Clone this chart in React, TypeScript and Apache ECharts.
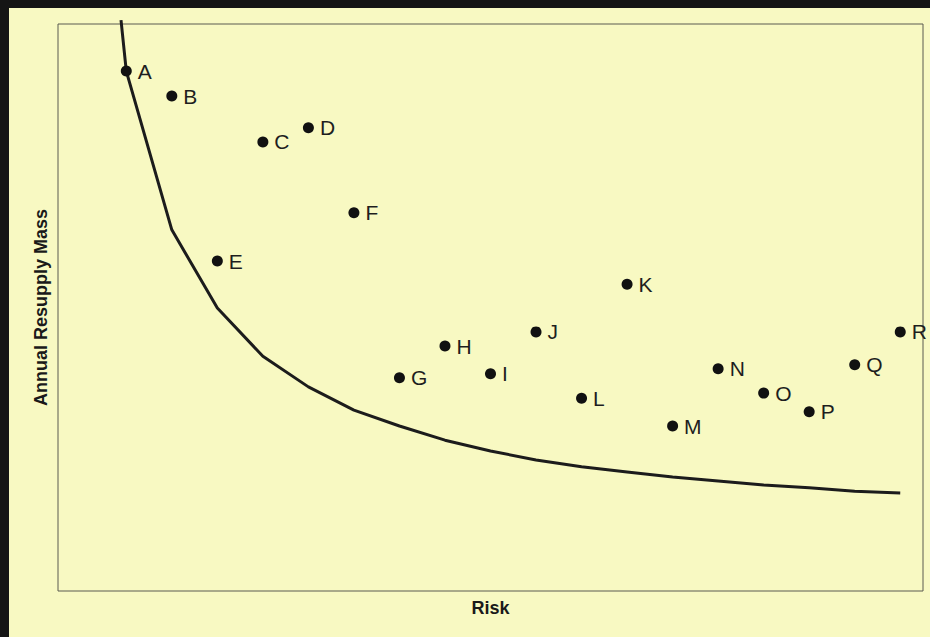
import React, { useEffect, useRef } from "react";
import * as echarts from "echarts";

const pointNames = ["A", "B", "C", "D", "E", "F", "G", "H", "I", "J", "K", "L", "M", "N", "O", "P", "Q", "R"];
const pointRisk = [1, 2, 4, 5, 3, 6, 7, 8, 9, 10, 12, 11, 13, 14, 15, 16, 17, 18];
const pointMass = [91.7, 87.3, 79.2, 81.7, 58.2, 66.7, 37.6, 43.2, 38.3, 45.7, 54.1, 34.0, 29.1, 39.2, 34.9, 31.6, 39.9, 45.7];

const curveRisk = [0.884, 1, 2, 3, 4, 5, 6, 7, 8, 9, 10, 11, 12, 13, 14, 15, 16, 17, 18];
const curveMass = [100.7, 91.7, 63.7, 49.9, 41.4, 36.0, 31.9, 29.1, 26.6, 24.7, 23.1, 21.9, 21.0, 20.1, 19.4, 18.7, 18.2, 17.6, 17.3];

const FONT = "'Liberation Sans', Arial, Helvetica, sans-serif";

export default function App() {
  const ref = useRef<HTMLDivElement>(null);

  useEffect(() => {
    document.body.style.margin = "0";
    if (!ref.current) return;
    const chart = echarts.init(ref.current, null, { renderer: "svg" });
    const scatterData = pointNames.map((n, i) => ({ name: n, value: [pointRisk[i], pointMass[i]] }));
    const curveData = curveRisk.map((x, i) => [x, curveMass[i]]);
    chart.setOption({
      animation: false,
      backgroundColor: "#f8f9c2",
      grid: {
        left: 58,
        top: 24,
        right: 7,
        bottom: 46,
        show: true,
        borderColor: "#5a5a50",
        borderWidth: 1,
        backgroundColor: "transparent",
      },
      xAxis: {
        type: "value",
        min: -0.5,
        max: 18.5,
        name: "Risk",
        nameLocation: "middle",
        nameGap: 8,
        nameTextStyle: { fontFamily: FONT, fontWeight: "bold", fontSize: 18, color: "#1a1a1a", verticalAlign: "top" },
        axisLine: { show: false },
        axisTick: { show: false },
        axisLabel: { show: false },
        splitLine: { show: false },
      },
      yAxis: {
        type: "value",
        min: 0,
        max: 100,
        name: "Annual Resupply Mass",
        nameLocation: "middle",
        nameGap: 8,
        nameTextStyle: { fontFamily: FONT, fontWeight: "bold", fontSize: 18, color: "#1a1a1a" },
        axisLine: { show: false },
        axisTick: { show: false },
        axisLabel: { show: false },
        splitLine: { show: false },
      },
      graphic: [
        { type: "rect", left: 0, top: 0, shape: { width: 930, height: 8 }, style: { fill: "#151515" } },
        { type: "rect", left: 0, top: 0, shape: { width: 9, height: 637 }, style: { fill: "#151515" } },
      ],
      series: [
        {
          type: "line",
          data: curveData,
          symbol: "none",
          clip: false,
          smooth: false,
          lineStyle: { color: "#1c1c1c", width: 3 },
          z: 2,
        },
        {
          type: "scatter",
          data: scatterData,
          symbol: "circle",
          symbolSize: 11,
          itemStyle: { color: "#111111", opacity: 1 },
          label: {
            show: true,
            position: "right",
            distance: 6,
            formatter: "{b}",
            fontFamily: FONT,
            fontSize: 21,
            color: "#1e1e1e",
          },
          z: 3,
        },
      ],
    });
    return () => chart.dispose();
  }, []);

  return <div ref={ref} style={{ width: 930, height: 637 }} />;
}
